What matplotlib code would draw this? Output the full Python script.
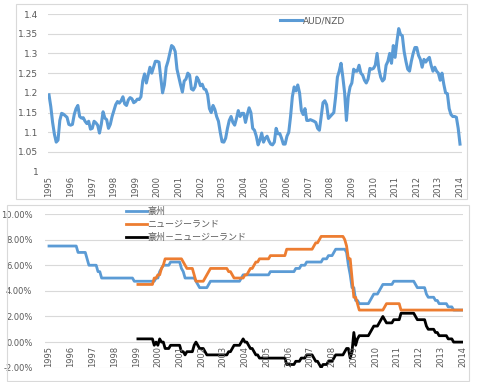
import numpy as np
import matplotlib
matplotlib.use("Agg")
import matplotlib.pyplot as plt
from matplotlib.patches import Rectangle

# AUD/NZD monthly, Jan 1995 - Jan 2014
audnzd = [
    1.195, 1.165, 1.125, 1.095, 1.075, 1.08, 1.13, 1.148, 1.146, 1.142, 1.138, 1.12,
    1.118, 1.12, 1.145, 1.16, 1.168, 1.14, 1.136, 1.137, 1.128, 1.122, 1.128, 1.108,
    1.11, 1.128, 1.124, 1.118, 1.098, 1.12, 1.152, 1.136, 1.132, 1.11, 1.12, 1.14,
    1.155, 1.17, 1.178, 1.174, 1.18, 1.19, 1.172, 1.168, 1.182, 1.188, 1.185, 1.175,
    1.178, 1.184, 1.183, 1.19, 1.23, 1.248, 1.225, 1.245, 1.265, 1.25, 1.265, 1.28,
    1.28, 1.278, 1.24, 1.2, 1.22, 1.265, 1.28, 1.30, 1.32, 1.316, 1.305, 1.26,
    1.24, 1.22, 1.202, 1.23, 1.235, 1.25, 1.245, 1.21, 1.207, 1.215, 1.24, 1.232,
    1.218, 1.222, 1.21, 1.208, 1.195, 1.16, 1.15, 1.168, 1.158, 1.14, 1.128, 1.1,
    1.076, 1.075, 1.085, 1.11, 1.13, 1.14, 1.125, 1.118, 1.135, 1.155, 1.14, 1.148,
    1.148, 1.125, 1.145, 1.162, 1.15, 1.11, 1.105, 1.09, 1.068, 1.08, 1.098, 1.075,
    1.085, 1.09, 1.078, 1.07, 1.068, 1.075, 1.11, 1.096, 1.097, 1.085, 1.07, 1.07,
    1.09, 1.1, 1.14, 1.19, 1.215, 1.205, 1.22, 1.2, 1.155, 1.145, 1.16, 1.13,
    1.13, 1.132, 1.13, 1.128, 1.125, 1.11, 1.105, 1.14, 1.175, 1.18, 1.17, 1.135,
    1.14, 1.145, 1.15, 1.19, 1.24, 1.255, 1.275, 1.24, 1.2, 1.13, 1.19, 1.215,
    1.225, 1.26, 1.255, 1.255, 1.27, 1.25, 1.245, 1.232, 1.225, 1.235, 1.262, 1.26,
    1.262, 1.27, 1.3, 1.26, 1.24, 1.23, 1.235, 1.27, 1.28, 1.3, 1.275, 1.32,
    1.29, 1.33, 1.363, 1.348, 1.345, 1.305, 1.28, 1.26, 1.255, 1.28, 1.3, 1.315,
    1.315, 1.295, 1.285, 1.265, 1.285, 1.278, 1.285, 1.29, 1.27, 1.255, 1.265, 1.255,
    1.25, 1.232, 1.25, 1.222, 1.2, 1.198, 1.16, 1.145, 1.14, 1.14, 1.138, 1.11,
    1.07,
]

# Australia policy rate (%), Jan 1995 - Jan 2014
au_rate = [
    7.5, 7.5, 7.5, 7.5, 7.5, 7.5, 7.5, 7.5, 7.5, 7.5, 7.5, 7.5,
    7.5, 7.5, 7.5, 7.5, 7.0, 7.0, 7.0, 7.0, 7.0, 6.5, 6.0, 6.0,
    6.0, 6.0, 6.0, 5.5, 5.5, 5.0, 5.0, 5.0, 5.0, 5.0, 5.0, 5.0,
    5.0, 5.0, 5.0, 5.0, 5.0, 5.0, 5.0, 5.0, 5.0, 5.0, 5.0, 4.75,
    4.75, 4.75, 4.75, 4.75, 4.75, 4.75, 4.75, 4.75, 4.75, 4.75, 4.75, 5.0,
    5.0, 5.5, 5.75, 6.0, 6.0, 6.0, 6.0, 6.25, 6.25, 6.25, 6.25, 6.25,
    6.25, 5.75, 5.5, 5.0, 5.0, 5.0, 5.0, 5.0, 5.0, 4.75, 4.5, 4.25,
    4.25, 4.25, 4.25, 4.25, 4.5, 4.75, 4.75, 4.75, 4.75, 4.75, 4.75, 4.75,
    4.75, 4.75, 4.75, 4.75, 4.75, 4.75, 4.75, 4.75, 4.75, 4.75, 5.0, 5.25,
    5.25, 5.25, 5.25, 5.25, 5.25, 5.25, 5.25, 5.25, 5.25, 5.25, 5.25, 5.25,
    5.25, 5.25, 5.5, 5.5, 5.5, 5.5, 5.5, 5.5, 5.5, 5.5, 5.5, 5.5,
    5.5, 5.5, 5.5, 5.5, 5.75, 5.75, 5.75, 6.0, 6.0, 6.0, 6.25, 6.25,
    6.25, 6.25, 6.25, 6.25, 6.25, 6.25, 6.25, 6.5, 6.5, 6.5, 6.75, 6.75,
    6.75, 7.0, 7.25, 7.25, 7.25, 7.25, 7.25, 7.25, 7.0, 6.0, 5.25, 4.25,
    4.25, 3.25, 3.25, 3.0, 3.0, 3.0, 3.0, 3.0, 3.0, 3.25, 3.5, 3.75,
    3.75, 3.75, 4.0, 4.25, 4.5, 4.5, 4.5, 4.5, 4.5, 4.5, 4.75, 4.75,
    4.75, 4.75, 4.75, 4.75, 4.75, 4.75, 4.75, 4.75, 4.75, 4.75, 4.5, 4.25,
    4.25, 4.25, 4.25, 4.25, 3.75, 3.5, 3.5, 3.5, 3.5, 3.25, 3.25, 3.0,
    3.0, 3.0, 3.0, 3.0, 2.75, 2.75, 2.75, 2.5, 2.5, 2.5, 2.5, 2.5,
    2.5,
]

# New Zealand policy rate (%), Feb 1999 - Jan 2014
nz_rate = [
    4.5, 4.5, 4.5, 4.5, 4.5, 4.5, 4.5, 4.5, 4.5, 5.0, 5.0,
    5.25, 5.25, 5.75, 6.0, 6.5, 6.5, 6.5, 6.5, 6.5, 6.5, 6.5, 6.5,
    6.5, 6.5, 6.25, 6.0, 5.75, 5.75, 5.75, 5.75, 5.25, 4.75, 4.75, 4.75,
    4.75, 4.75, 5.0, 5.25, 5.5, 5.75, 5.75, 5.75, 5.75, 5.75, 5.75, 5.75,
    5.75, 5.75, 5.75, 5.5, 5.5, 5.25, 5.0, 5.0, 5.0, 5.0, 5.0, 5.0,
    5.25, 5.25, 5.5, 5.75, 5.75, 6.0, 6.25, 6.25, 6.5, 6.5, 6.5, 6.5,
    6.5, 6.5, 6.75, 6.75, 6.75, 6.75, 6.75, 6.75, 6.75, 6.75, 6.75, 7.25,
    7.25, 7.25, 7.25, 7.25, 7.25, 7.25, 7.25, 7.25, 7.25, 7.25, 7.25, 7.25,
    7.25, 7.25, 7.5, 7.75, 7.75, 8.0, 8.25, 8.25, 8.25, 8.25, 8.25, 8.25,
    8.25, 8.25, 8.25, 8.25, 8.25, 8.25, 8.25, 8.0, 7.5, 6.5, 6.5, 5.0,
    3.5, 3.5, 3.0, 2.5, 2.5, 2.5, 2.5, 2.5, 2.5, 2.5, 2.5, 2.5,
    2.5, 2.5, 2.5, 2.5, 2.5, 2.75, 3.0, 3.0, 3.0, 3.0, 3.0, 3.0,
    3.0, 3.0, 2.5, 2.5, 2.5, 2.5, 2.5, 2.5, 2.5, 2.5, 2.5, 2.5,
    2.5, 2.5, 2.5, 2.5, 2.5, 2.5, 2.5, 2.5, 2.5, 2.5, 2.5, 2.5,
    2.5, 2.5, 2.5, 2.5, 2.5, 2.5, 2.5, 2.5, 2.5, 2.5, 2.5, 2.5,
    2.5,
]

# spread AU - NZ (%), Feb 1999 - Jan 2014
spread = [
    0.25, 0.25, 0.25, 0.25, 0.25, 0.25, 0.25, 0.25, 0.25, -0.25, 0.0,
    -0.25, 0.25, 0.0, 0.0, -0.5, -0.5, -0.5, -0.25, -0.25, -0.25, -0.25, -0.25,
    -0.25, -0.75, -0.75, -1.0, -0.75, -0.75, -0.75, -0.75, -0.25, 0.0, -0.25, -0.5,
    -0.5, -0.5, -0.75, -1.0, -1.0, -1.0, -1.0, -1.0, -1.0, -1.0, -1.0, -1.0,
    -1.0, -1.0, -1.0, -0.75, -0.75, -0.5, -0.25, -0.25, -0.25, -0.25, 0.0, 0.25,
    0.0, 0.0, -0.25, -0.5, -0.5, -0.75, -1.0, -1.0, -1.25, -1.25, -1.25, -1.25,
    -1.25, -1.25, -1.25, -1.25, -1.25, -1.25, -1.25, -1.25, -1.25, -1.25, -1.25, -1.75,
    -1.75, -1.75, -1.75, -1.75, -1.5, -1.5, -1.5, -1.25, -1.25, -1.25, -1.0, -1.0,
    -1.0, -1.0, -1.25, -1.5, -1.5, -1.75, -2.0, -1.75, -1.75, -1.75, -1.5, -1.5,
    -1.5, -1.25, -1.0, -1.0, -1.0, -1.0, -1.0, -0.75, -0.5, -0.5, -1.25, -0.75,
    0.75, -0.25, 0.25, 0.5, 0.5, 0.5, 0.5, 0.5, 0.5, 0.75, 1.0, 1.25,
    1.25, 1.25, 1.5, 1.75, 2.0, 1.75, 1.5, 1.5, 1.5, 1.5, 1.75, 1.75,
    1.75, 1.75, 2.25, 2.25, 2.25, 2.25, 2.25, 2.25, 2.25, 2.25, 2.0, 1.75,
    1.75, 1.75, 1.75, 1.75, 1.25, 1.0, 1.0, 1.0, 1.0, 0.75, 0.75, 0.5,
    0.5, 0.5, 0.5, 0.5, 0.25, 0.25, 0.25, 0.0, 0.0, 0.0, 0.0, 0.0,
    0.0,
]

years = list(range(1995, 2015))
year_labels = [str(y) for y in years]
labels_jp = ['豪州', 'ニュージーランド', '豪州－ニュージーランド']

blue = '#5B9BD5'
orange = '#ED7D31'
grid_c = '#D9D9D9'
text_c = '#595959'

x_all = 1995 + np.arange(len(audnzd)) / 12
x_nz = 1999 + 1 / 12 + np.arange(len(nz_rate)) / 12

fig = plt.figure(figsize=(4.8, 3.82), dpi=100)

# panel borders
for (x0, y0, x1, y1) in [(16, 4, 467, 199), (7, 205, 469, 381)]:
    fig.patches.append(Rectangle((x0 / 480, 1 - y1 / 382), (x1 - x0) / 480, (y1 - y0) / 382,
                                 transform=fig.transFigure, fill=False, edgecolor=grid_c, lw=0.8))

# top chart
ax1 = fig.add_axes([48 / 480, 1 - 171.7 / 382, (461.7 - 48) / 480, (171.7 - 14) / 382])
ax1.plot(x_all, audnzd, color=blue, lw=2.2, label='AUD/NZD')
ax1.set_xlim(1995 - 1 / 21.63, 2014 + 1.7 / 21.63)
ax1.set_ylim(1.0, 1.4)
ax1.set_yticks(np.arange(1.0, 1.41, 0.05))
ax1.set_yticklabels(['1', '1.05', '1.1', '1.15', '1.2', '1.25', '1.3', '1.35', '1.4'])
ax1.set_xticks(years)
ax1.set_xticklabels(year_labels)
ax1.grid(axis='y', color=grid_c, lw=0.8)
ax1.set_axisbelow(True)
for s in ax1.spines.values():
    s.set_visible(False)
ax1.tick_params(axis='both', length=0, labelsize=6, labelcolor=text_c)
ax1.tick_params(axis='y', pad=7, labelsize=6.5)
ax1.tick_params(axis='x', pad=3, labelrotation=90)
ax1.legend(loc='upper left', bbox_to_anchor=(280 / 480, 1 - 16 / 382), bbox_transform=fig.transFigure,
           frameon=False, fontsize=6.5, handlelength=2.4, handletextpad=0.1, labelcolor=text_c,
           borderpad=0, borderaxespad=0)

# bottom chart
ax2 = fig.add_axes([45 / 480, 1 - 367.7 / 382, (463 - 45) / 480, (367.7 - 214) / 382])
ax2.plot(x_all, au_rate, color=blue, lw=2.0, label=labels_jp[0])
ax2.plot(x_nz, nz_rate, color=orange, lw=2.0, label=labels_jp[1])
ax2.plot(x_nz, spread, color='black', lw=2.0, label=labels_jp[2])
ax2.set_xlim(1995 - 4 / 21.77, 2014 + 0.3 / 21.77)
ax2.set_ylim(-2, 10)
ax2.set_yticks(np.arange(-2, 10.1, 2))
ax2.set_yticklabels(['%.2f%%' % v for v in np.arange(-2, 10.1, 2)])
ax2.set_xticks([])
ax2.grid(axis='y', color=grid_c, lw=0.8)
ax2.set_axisbelow(True)
for s in ax2.spines.values():
    s.set_visible(False)
ax2.tick_params(axis='both', length=0, labelsize=6, labelcolor=text_c)
ax2.tick_params(axis='y', pad=9)
# category labels hang from the zero line, as in the spreadsheet chart
for yr, lbl in zip(years, year_labels):
    ax2.annotate(lbl, (yr, 0), xytext=(0, -2.5), textcoords='offset points', rotation=90,
                 ha='center', va='top', fontsize=6, color=text_c)
ax2.legend(loc='upper left', bbox_to_anchor=(126 / 480, 1 - 207 / 382), bbox_transform=fig.transFigure,
           frameon=False, handlelength=2.3, handletextpad=0.1, labelcolor=text_c,
           labelspacing=0.45, borderpad=0, borderaxespad=0,
           prop={'family': ['Noto Sans CJK JP', 'DejaVu Sans'], 'size': 6.5})

fig.savefig('out.png', dpi=100, facecolor='white')
